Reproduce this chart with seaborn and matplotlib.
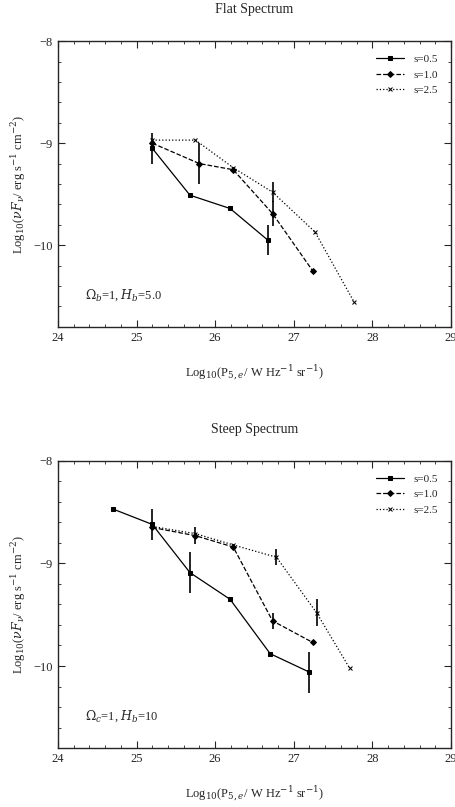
import numpy as np
import pandas as pd
import matplotlib
matplotlib.use('Agg')
import matplotlib.pyplot as plt
import seaborn as sns
from matplotlib.ticker import MultipleLocator

sns.set_style('ticks')
plt.rcParams['font.family'] = ['Liberation Serif', 'DejaVu Serif']
plt.rcParams['mathtext.fontset'] = 'dejavuserif'

labels = ['s=0.5', 's=1.0', 's=2.5']

# Flat spectrum panel
flat_x = [[25.20, 25.68, 26.19, 26.67],
          [25.20, 25.80, 26.23, 26.73, 27.24],
          [25.20, 25.75, 26.23, 26.73, 27.27, 27.77]]
flat_y = [[-9.05, -9.51, -9.64, -9.95],
          [-9.00, -9.20, -9.26, -9.69, -10.25],
          [-8.97, -8.97, -9.24, -9.48, -9.87, -10.56]]
flat_err = [[0.15, 0.0, 0.0, 0.15],
            [0.0, 0.20, 0.0, 0.12, 0.0],
            [0.0, 0.0, 0.0, 0.10, 0.0, 0.0]]

# Steep spectrum panel
steep_x = [[24.70, 25.20, 25.68, 26.19, 26.70, 27.20],
           [25.20, 25.75, 26.23, 26.73, 27.24],
           [25.20, 25.75, 26.23, 26.78, 27.29, 27.71]]
steep_y = [[-8.47, -8.62, -9.09, -9.35, -9.88, -10.06],
           [-8.65, -8.73, -8.84, -9.56, -9.77],
           [-8.64, -8.71, -8.82, -8.94, -9.48, -10.02]]
steep_err = [[0.0, 0.15, 0.20, 0.0, 0.0, 0.20],
             [0.0, 0.08, 0.0, 0.08, 0.0],
             [0.0, 0.0, 0.0, 0.08, 0.13, 0.0]]

styles = ['-', '--', ':']
markers = ['s', 'D', 'x']

fig = plt.figure(figsize=(4.56, 8.07), dpi=100)
ax_top = fig.add_axes([0.127, 0.595, 0.862, 0.354])
ax_bot = fig.add_axes([0.127, 0.073, 0.862, 0.356])

panels = [(ax_top, flat_x, flat_y, flat_err, 'Flat Spectrum', r'$\Omega_b$=1, $H_b$=5.0'),
          (ax_bot, steep_x, steep_y, steep_err, 'Steep Spectrum', r'$\Omega_c$=1, $H_b$=10')]

for ax, xs, ys, errs, title, note in panels:
    for i in range(3):
        df = pd.DataFrame({'x': xs[i], 'y': ys[i]})
        sns.lineplot(data=df, x='x', y='y', ax=ax, color='black', linestyle=styles[i],
                     marker=markers[i], markersize=3, linewidth=0.9,
                     markeredgecolor='black', label=labels[i])
        e = np.array(errs[i])
        m = e > 0
        ax.errorbar(np.array(xs[i])[m], np.array(ys[i])[m], yerr=e[m], fmt='none',
                    ecolor='black', elinewidth=1.2, capsize=0)
    ax.set_xlim(24, 29)
    ax.set_ylim(-10.8, -8)
    ax.xaxis.set_major_locator(MultipleLocator(1))
    ax.xaxis.set_minor_locator(MultipleLocator(0.2))
    ax.yaxis.set_major_locator(MultipleLocator(1))
    ax.yaxis.set_minor_locator(MultipleLocator(0.2))
    ax.tick_params(direction='in', top=True, right=True, which='both', labelsize=9)
    ax.tick_params(which='major', length=5)
    ax.tick_params(which='minor', length=2.5)
    ax.set_title(title, fontsize=10, pad=20)
    ax.set_xlabel(r'Log$_{10}$(P$_{5,e}$/ W Hz$^{-1}$ sr$^{-1}$)', fontsize=9, labelpad=14)
    ax.set_ylabel(r'Log$_{10}$($\nu F_{\nu}$/ erg s$^{-1}$ cm$^{-2}$)', fontsize=9)
    ax.text(0.07, 0.1, note, transform=ax.transAxes, fontsize=9)
    ax.legend(loc='upper right', frameon=False, fontsize=8, handlelength=2.5,
              borderaxespad=0.8)
    for s in ax.spines.values():
        s.set_linewidth(1.0)

fig.savefig('out.png', dpi=100)
